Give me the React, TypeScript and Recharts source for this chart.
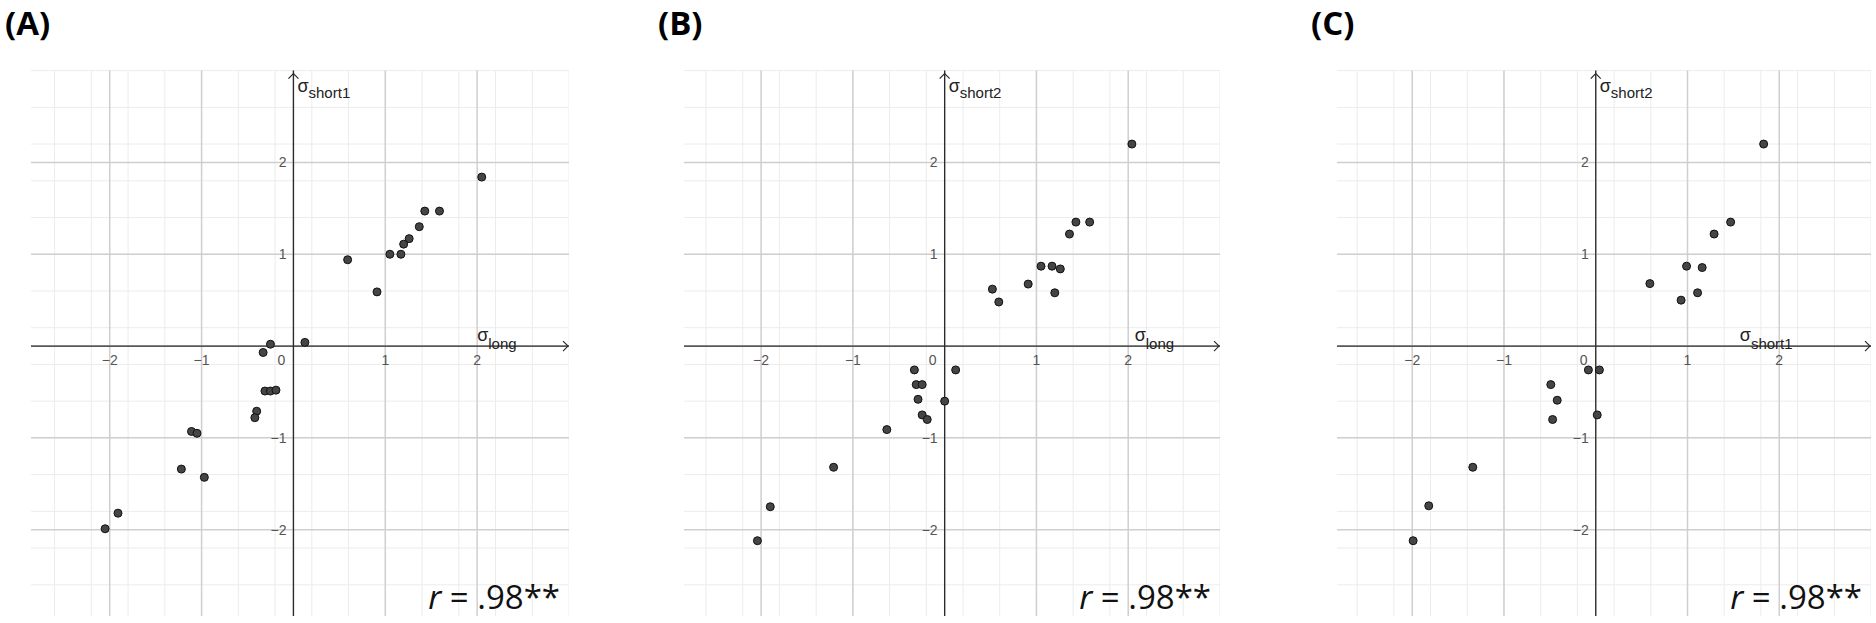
import React from 'react';
import { ScatterChart, Scatter, XAxis, YAxis, CartesianGrid, ReferenceLine, ReferenceDot } from 'recharts';

// Panel A: sigma_long vs sigma_short1
const aLong = [2.05, 1.43, 1.59, 1.37, 1.26, 1.2, 1.05, 1.17, 0.59, 0.91, 0.125, -0.25, -0.33, -0.31, -0.25, -0.19, -0.4, -0.42, -1.11, -1.05, -1.22, -0.97, -1.91, -2.05];
const aShort1 = [1.84, 1.47, 1.47, 1.3, 1.17, 1.11, 1.0, 1.0, 0.94, 0.59, 0.04, 0.02, -0.07, -0.49, -0.49, -0.48, -0.71, -0.78, -0.93, -0.95, -1.34, -1.43, -1.82, -1.99];

// Panel B: sigma_long vs sigma_short2
const bLong = [2.04, 1.43, 1.58, 1.36, 1.05, 1.17, 1.26, 0.91, 1.2, 0.52, 0.59, 0.12, -0.33, -0.31, -0.245, -0.29, 0.0, -0.245, -0.19, -0.63, -1.21, -1.9, -2.04];
const bShort2 = [2.2, 1.35, 1.35, 1.22, 0.87, 0.87, 0.84, 0.675, 0.58, 0.62, 0.48, -0.26, -0.26, -0.42, -0.42, -0.58, -0.6, -0.75, -0.8, -0.91, -1.32, -1.75, -2.12];

// Panel C: sigma_short1 vs sigma_short2
const cShort1 = [1.83, 1.47, 1.29, 0.99, 1.16, 0.59, 1.11, 0.93, -0.08, 0.04, -0.49, -0.42, -0.47, 0.016, -1.34, -1.82, -1.99];
const cShort2 = [2.2, 1.35, 1.22, 0.87, 0.855, 0.68, 0.58, 0.5, -0.26, -0.26, -0.42, -0.59, -0.8, -0.75, -1.32, -1.74, -2.12];

const majorTicks = [-2, -1, 0, 1, 2];
const tickLabels = ['\u22122', '\u22121', '0', '1', '2'];
const panelLabels = ['(A)', '(B)', '(C)'];
const rText = '= .98**';

const minorGrid: number[] = [];
for (let i = -15; i <= 15; i++) minorGrid.push(Math.round(i * 20) / 100);

const LABEL_FONT = '"Liberation Sans", Arial, sans-serif';

type PanelProps = {
  left: number;
  width: number;
  xMin: number;
  xMax: number;
  yMin: number;
  yMax: number;
  xs: number[];
  ys: number[];
  xSub: string;
  ySub: string;
  xLabelAt: number;
  label: string;
};

const Dot = (p: any) => (
  <circle cx={p.cx} cy={p.cy} r={4} fill="#454545" stroke="#111" strokeWidth={1} />
);

function Panel(props: PanelProps) {
  const { left, width, xMin, xMax, yMin, yMax, xs, ys, xSub, ySub, xLabelAt, label } = props;
  const data = xs.map((x, i) => ({ x, y: ys[i] }));
  const top = 70.6;
  const height = 623;
  const bottom = 623 - 616;
  return (
    <>
      <svg
        width={80}
        height={50}
        style={{ position: 'absolute', left: left - 27, top: 0, overflow: 'visible' }}
      >
        <text
          x={1}
          y={35}
          fontFamily='"Open Sans", sans-serif'
          fontWeight={700}
          fontSize={33}
          fill="#000"
        >
          {label}
        </text>
      </svg>
      <div style={{ position: 'absolute', left, top: 0 }}>
        <ScatterChart width={width} height={height} margin={{ top, right: 0, bottom, left: 0 }}>
          <XAxis type="number" dataKey="x" domain={[xMin, xMax]} hide allowDataOverflow />
          <YAxis type="number" dataKey="y" domain={[yMin, yMax]} hide allowDataOverflow />
          <CartesianGrid
            verticalValues={minorGrid.filter((v) => v >= xMin && v <= xMax)}
            horizontalValues={minorGrid.filter((v) => v >= yMin && v <= yMax)}
            stroke="#ececec"
            strokeWidth={1}
          />
          <CartesianGrid
            verticalValues={majorTicks}
            horizontalValues={majorTicks}
            stroke="#cfcfcf"
            strokeWidth={1.5}
          />
          <ReferenceLine x={0} stroke="#2b2b2b" strokeWidth={1.3} />
          <ReferenceLine y={0} stroke="#2b2b2b" strokeWidth={1.3} />
          <ReferenceDot
            x={xMax}
            y={0}
            r={0}
            ifOverflow="visible"
            shape={(p: any) => (
              <path
                d={`M${p.cx - 6},${p.cy - 5} L${p.cx - 1},${p.cy} L${p.cx - 6},${p.cy + 5}`}
                fill="none"
                stroke="#2b2b2b"
                strokeWidth={1.2}
              />
            )}
          />
          <ReferenceDot
            x={0}
            y={yMax}
            r={0}
            ifOverflow="visible"
            shape={(p: any) => (
              <path
                d={`M${p.cx - 5},${p.cy + 8} L${p.cx},${p.cy + 3} L${p.cx + 5},${p.cy + 8}`}
                fill="none"
                stroke="#2b2b2b"
                strokeWidth={1.2}
              />
            )}
          />
          {majorTicks.map((t, i) => (
            <ReferenceDot
              key={'xt' + t}
              x={t}
              y={0}
              r={0}
              ifOverflow="visible"
              shape={(p: any) => (
                <text
                  x={t === 0 ? p.cx - 12 : p.cx}
                  y={p.cy + 14}
                  textAnchor="middle"
                  dominantBaseline="central"
                  fontFamily={LABEL_FONT}
                  fontSize={14}
                  fill="#555"
                >
                  {tickLabels[i]}
                </text>
              )}
            />
          ))}
          {majorTicks
            .filter((t) => t !== 0)
            .map((t) => (
              <ReferenceDot
                key={'yt' + t}
                x={0}
                y={t}
                r={0}
                ifOverflow="visible"
                shape={(p: any) => (
                  <text
                    x={p.cx - 7}
                    y={p.cy}
                    textAnchor="end"
                    dominantBaseline="central"
                    fontFamily={LABEL_FONT}
                    fontSize={14}
                    fill="#555"
                  >
                    {tickLabels[majorTicks.indexOf(t)]}
                  </text>
                )}
              />
            ))}
          <ReferenceDot
            x={xLabelAt}
            y={0}
            r={0}
            ifOverflow="visible"
            shape={(p: any) => (
              <text x={p.cx} y={p.cy - 5} fontFamily={LABEL_FONT} fill="#222">
                <tspan fontSize={18}>σ</tspan>
                <tspan fontSize={15} dy={8}>
                  {xSub}
                </tspan>
              </text>
            )}
          />
          <ReferenceDot
            x={0}
            y={yMax}
            r={0}
            ifOverflow="visible"
            shape={(p: any) => (
              <text x={p.cx + 4} y={p.cy + 21} fontFamily={LABEL_FONT} fill="#222">
                <tspan fontSize={18}>σ</tspan>
                <tspan fontSize={15} dy={6}>
                  {ySub}
                </tspan>
              </text>
            )}
          />
          <ReferenceDot
            x={xMax}
            y={yMin}
            r={0}
            ifOverflow="visible"
            shape={(p: any) => (
              <text
                x={p.cx - 9}
                y={p.cy - 7}
                textAnchor="end"
                fontFamily='"Open Sans", sans-serif'
                fontSize={33}
                fill="#111"
              >
                <tspan fontStyle="italic">r</tspan>
                <tspan> {rText}</tspan>
              </text>
            )}
          />
          <Scatter data={data} shape={Dot} isAnimationActive={false} />
        </ScatterChart>
      </div>
    </>
  );
}

export default function App() {
  return (
    <div
      style={{
        position: 'absolute',
        left: 0,
        top: 0,
        width: 1876,
        height: 623,
        background: '#fff',
        overflow: 'hidden',
      }}
    >
      <Panel
        left={31}
        width={538}
        xMin={-2.857}
        xMax={3.0}
        yMin={-2.94}
        yMax={3.0}
        xs={aLong}
        ys={aShort1}
        xSub="long"
        ySub="short1"
        xLabelAt={2.0}
        label={panelLabels[0]}
      />
      <Panel
        left={684}
        width={536}
        xMin={-2.84}
        xMax={3.0}
        yMin={-2.94}
        yMax={3.0}
        xs={bLong}
        ys={bShort2}
        xSub="long"
        ySub="short2"
        xLabelAt={2.07}
        label={panelLabels[1]}
      />
      <Panel
        left={1337}
        width={534}
        xMin={-2.82}
        xMax={3.0}
        yMin={-2.94}
        yMax={3.0}
        xs={cShort1}
        ys={cShort2}
        xSub="short1"
        ySub="short2"
        xLabelAt={1.57}
        label={panelLabels[2]}
      />
    </div>
  );
}
